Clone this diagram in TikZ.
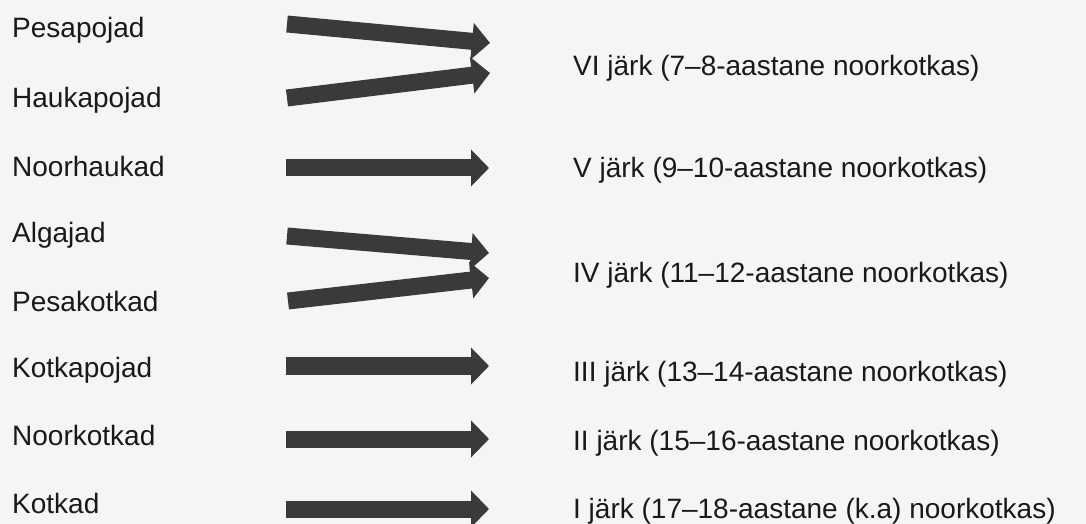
\documentclass[tikz,border=0pt]{standalone}
\usepackage{fontspec}
\setmainfont{Liberation Sans}
\usetikzlibrary{arrows.meta}
\definecolor{pilt}{HTML}{3A3A3A}
\definecolor{paber}{HTML}{F5F5F5}
\tikzset{
  silt/.style={anchor=base west, inner sep=0pt, font=\fontsize{28bp}{32bp}\selectfont, text=black!90},
  nool/.style={draw=pilt, line width=17bp, -{Triangle[length=18bp,width=36bp]}},
}

\begin{document}
\begin{tikzpicture}[x=1bp, y=-1bp]
                % taust
                \fill[paber] (0,0) rectangle (1086,524);
                \useasboundingbox (0,0) rectangle (1086,524);

                % Nodes (vasak veerg)
                \node[silt] at (12, 38) (pesapojad) {Pesapojad};
                \node[silt] at (12, 108) (haukapojad) {Haukapojad};
                \node[silt] at (12, 177) (noorhaukad) {Noorhaukad};
                \node[silt] at (12, 243) (algajad) {Algajad};
                \node[silt] at (12, 312) (pesakotkad) {Pesakotkad};
                \node[silt] at (12, 378) (kotkapojad) {Kotkapojad};
                \node[silt] at (12, 445) (noorkotkad) {Noorkotkad};
                \node[silt] at (12, 513) (kotkad) {Kotkad};

                % Nodes (parem veerg)
                \node[silt] at (573, 76) (jark6) {VI järk (7–8-aastane noorkotkas)};
                \node[silt] at (573, 178) (jark5) {V järk (9–10-aastane noorkotkas)};
                \node[silt] at (573, 283) (jark4) {IV järk (11–12-aastane noorkotkas)};
                \node[silt] at (573, 382) (jark3) {III järk (13–14-aastane noorkotkas)};
                \node[silt] at (573, 450) (jark2) {II järk (15–16-aastane noorkotkas)};
                \node[silt] at (573, 518) (jark1) {I järk (17–18-aastane (k.a) noorkotkas)};

                % noolte otsad
                \coordinate (a1) at (287, 24);   \coordinate (b1) at (490, 43);
                \coordinate (a2) at (287, 98);   \coordinate (b2) at (490, 73);
                \coordinate (a3) at (286, 168);  \coordinate (b3) at (489, 168);
                \coordinate (a4) at (287, 236);  \coordinate (b4) at (489, 253);
                \coordinate (a5) at (288, 301);  \coordinate (b5) at (489, 278);
                \coordinate (a6) at (286, 366);  \coordinate (b6) at (489, 366);
                \coordinate (a7) at (286, 439);  \coordinate (b7) at (489, 439);
                \coordinate (a8) at (286, 509);  \coordinate (b8) at (489, 509);

                \foreach \i in {1,...,8}
                    \draw[nool] (a\i) -- (b\i);

            \end{tikzpicture}
\end{document}
